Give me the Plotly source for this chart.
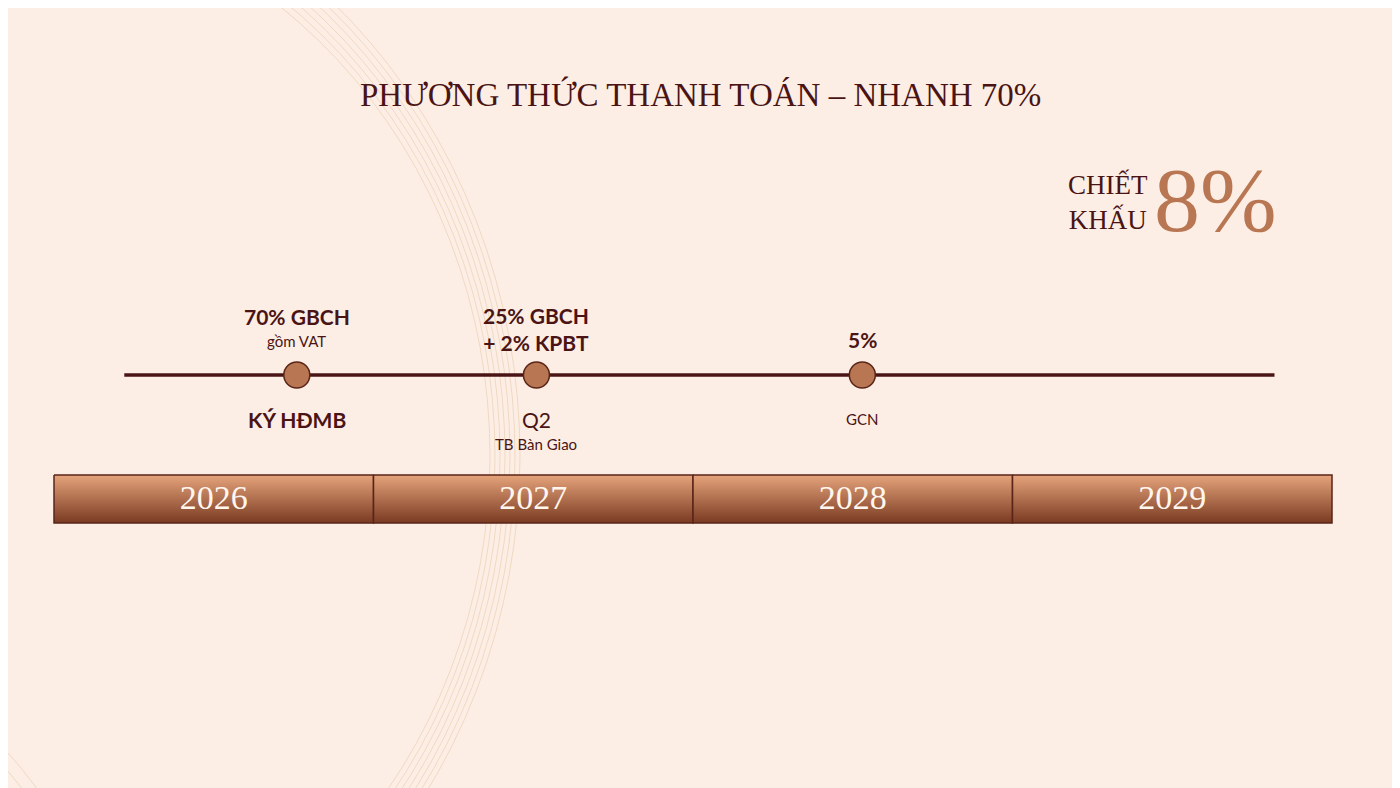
import plotly.graph_objects as go

# timeline data
years = [2026, 2027, 2028, 2029]
milestone_x = [2026.76, 2027.51, 2028.53]
milestone_top = ["<b>70% GBCH</b>", "<b>25% GBCH<br>+ 2% KPBT</b>", "<b>5%</b>"]
milestone_top_sub = ["gồm VAT", "", ""]
milestone_bottom = ["<b>KÝ HĐMB</b>", "Q2", "GCN"]
milestone_bottom_sub = ["", "TB Bàn Giao", ""]
line_span = [2026.22, 2029.82]

BG = "#fdeee5"
DARK = "#4a1414"
COPPER = "#b87752"

PX_PER_YEAR = 319.5
OFF = 8  # browser page margin
x_range = [2026 - (54 - OFF) / PX_PER_YEAR, 2026 + (1400 - 54 + OFF) / PX_PER_YEAR]
x0px = 2026 - 54 / PX_PER_YEAR  # year value at pixel 0 of the reference

fig = go.Figure()

# decorative arcs
for i in range(7):
    r = 520 + i * 9
    cx = -30 - i * 4
    fig.add_shape(type="circle", xref="x", yref="y",
                  x0=x0px + (cx - r) / PX_PER_YEAR, x1=x0px + (cx + r) / PX_PER_YEAR,
                  y0=440 - r - 40, y1=440 + r + 40,
                  line=dict(color="rgba(225,195,160,0.5)", width=1), layer="below")
for i in range(6):
    r = 330 + i * 12
    fig.add_shape(type="circle", xref="x", yref="y",
                  x0=x0px + (-280 - r) / PX_PER_YEAR, x1=x0px + (-280 + r) / PX_PER_YEAR,
                  y0=1000 - r, y1=1000 + r,
                  line=dict(color="rgba(225,195,160,0.5)", width=1), layer="below")

# year bars
for y in years:
    fig.add_trace(go.Scatter(
        x=[y, y + 1, y + 1, y, y], y=[459, 459, 507, 507, 459],
        mode="lines", fill="toself",
        line=dict(color="#5a2518", width=1.5),
        fillgradient=dict(type="vertical", colorscale=[[0, "#7a3a22"], [1, "#e5a47b"]]),
        hoverinfo="skip", showlegend=False))
fig.add_trace(go.Scatter(
    x=[y + 0.5 for y in years], y=[484] * len(years), mode="text",
    text=[str(y) for y in years],
    textfont=dict(family="Liberation Serif", size=34, color="#fff6ee"),
    hoverinfo="skip", showlegend=False))

# timeline line
fig.add_trace(go.Scatter(x=line_span, y=[359, 359], mode="lines",
                         line=dict(color="#4a1414", width=3.5),
                         hoverinfo="skip", showlegend=False))
fig.add_trace(go.Scatter(x=milestone_x, y=[359] * 3, mode="markers",
                         marker=dict(size=26, color=COPPER, line=dict(color="#5a2518", width=1.5)),
                         hoverinfo="skip", showlegend=False))

font_b = "Lato"
for x, t, s in zip(milestone_x, milestone_top, milestone_top_sub):
    if s:
        fig.add_annotation(x=x, y=300, text=t, showarrow=False, font=dict(family=font_b, size=21, color=DARK))
        fig.add_annotation(x=x, y=325, text=s, showarrow=False, font=dict(family=font_b, size=15, color=DARK))
    elif "<br>" in t:
        fig.add_annotation(x=x, y=313, text=t, showarrow=False, font=dict(family=font_b, size=21, color=DARK))
    else:
        fig.add_annotation(x=x, y=323, text=t, showarrow=False, font=dict(family=font_b, size=21, color=DARK))
for x, t, s in zip(milestone_x, milestone_bottom, milestone_bottom_sub):
    size = 21 if t.startswith("<b>") or t == "Q2" else 15
    fig.add_annotation(x=x, y=403, text=t, showarrow=False, font=dict(family=font_b, size=size, color=DARK))
    if s:
        fig.add_annotation(x=x, y=428, text=s, showarrow=False, font=dict(family=font_b, size=15, color=DARK))

# headings
fig.add_annotation(x=x0px + 700 / PX_PER_YEAR, y=78, text="PHƯƠNG THỨC THANH TOÁN – NHANH 70%",
                   showarrow=False, font=dict(family="Liberation Serif", size=33, color=DARK))
fig.add_annotation(x=x0px + 1150 / PX_PER_YEAR, y=186, text="CHIẾT<br>KHẤU", xanchor="right",
                   showarrow=False, align="center", font=dict(family="Liberation Serif", size=27, color=DARK))
fig.add_annotation(x=x0px + 1152 / PX_PER_YEAR, y=184, text="8%", xanchor="left",
                   showarrow=False, font=dict(family="Liberation Serif", size=92, color=COPPER))

fig.update_xaxes(range=x_range, visible=False, fixedrange=True)
fig.update_yaxes(range=[788 - OFF, -OFF], visible=False, fixedrange=True)
fig.update_layout(width=1400, height=788, margin=dict(l=0, r=0, t=0, b=0),
                  paper_bgcolor=BG, plot_bgcolor=BG)
fig.write_html("out.html")
